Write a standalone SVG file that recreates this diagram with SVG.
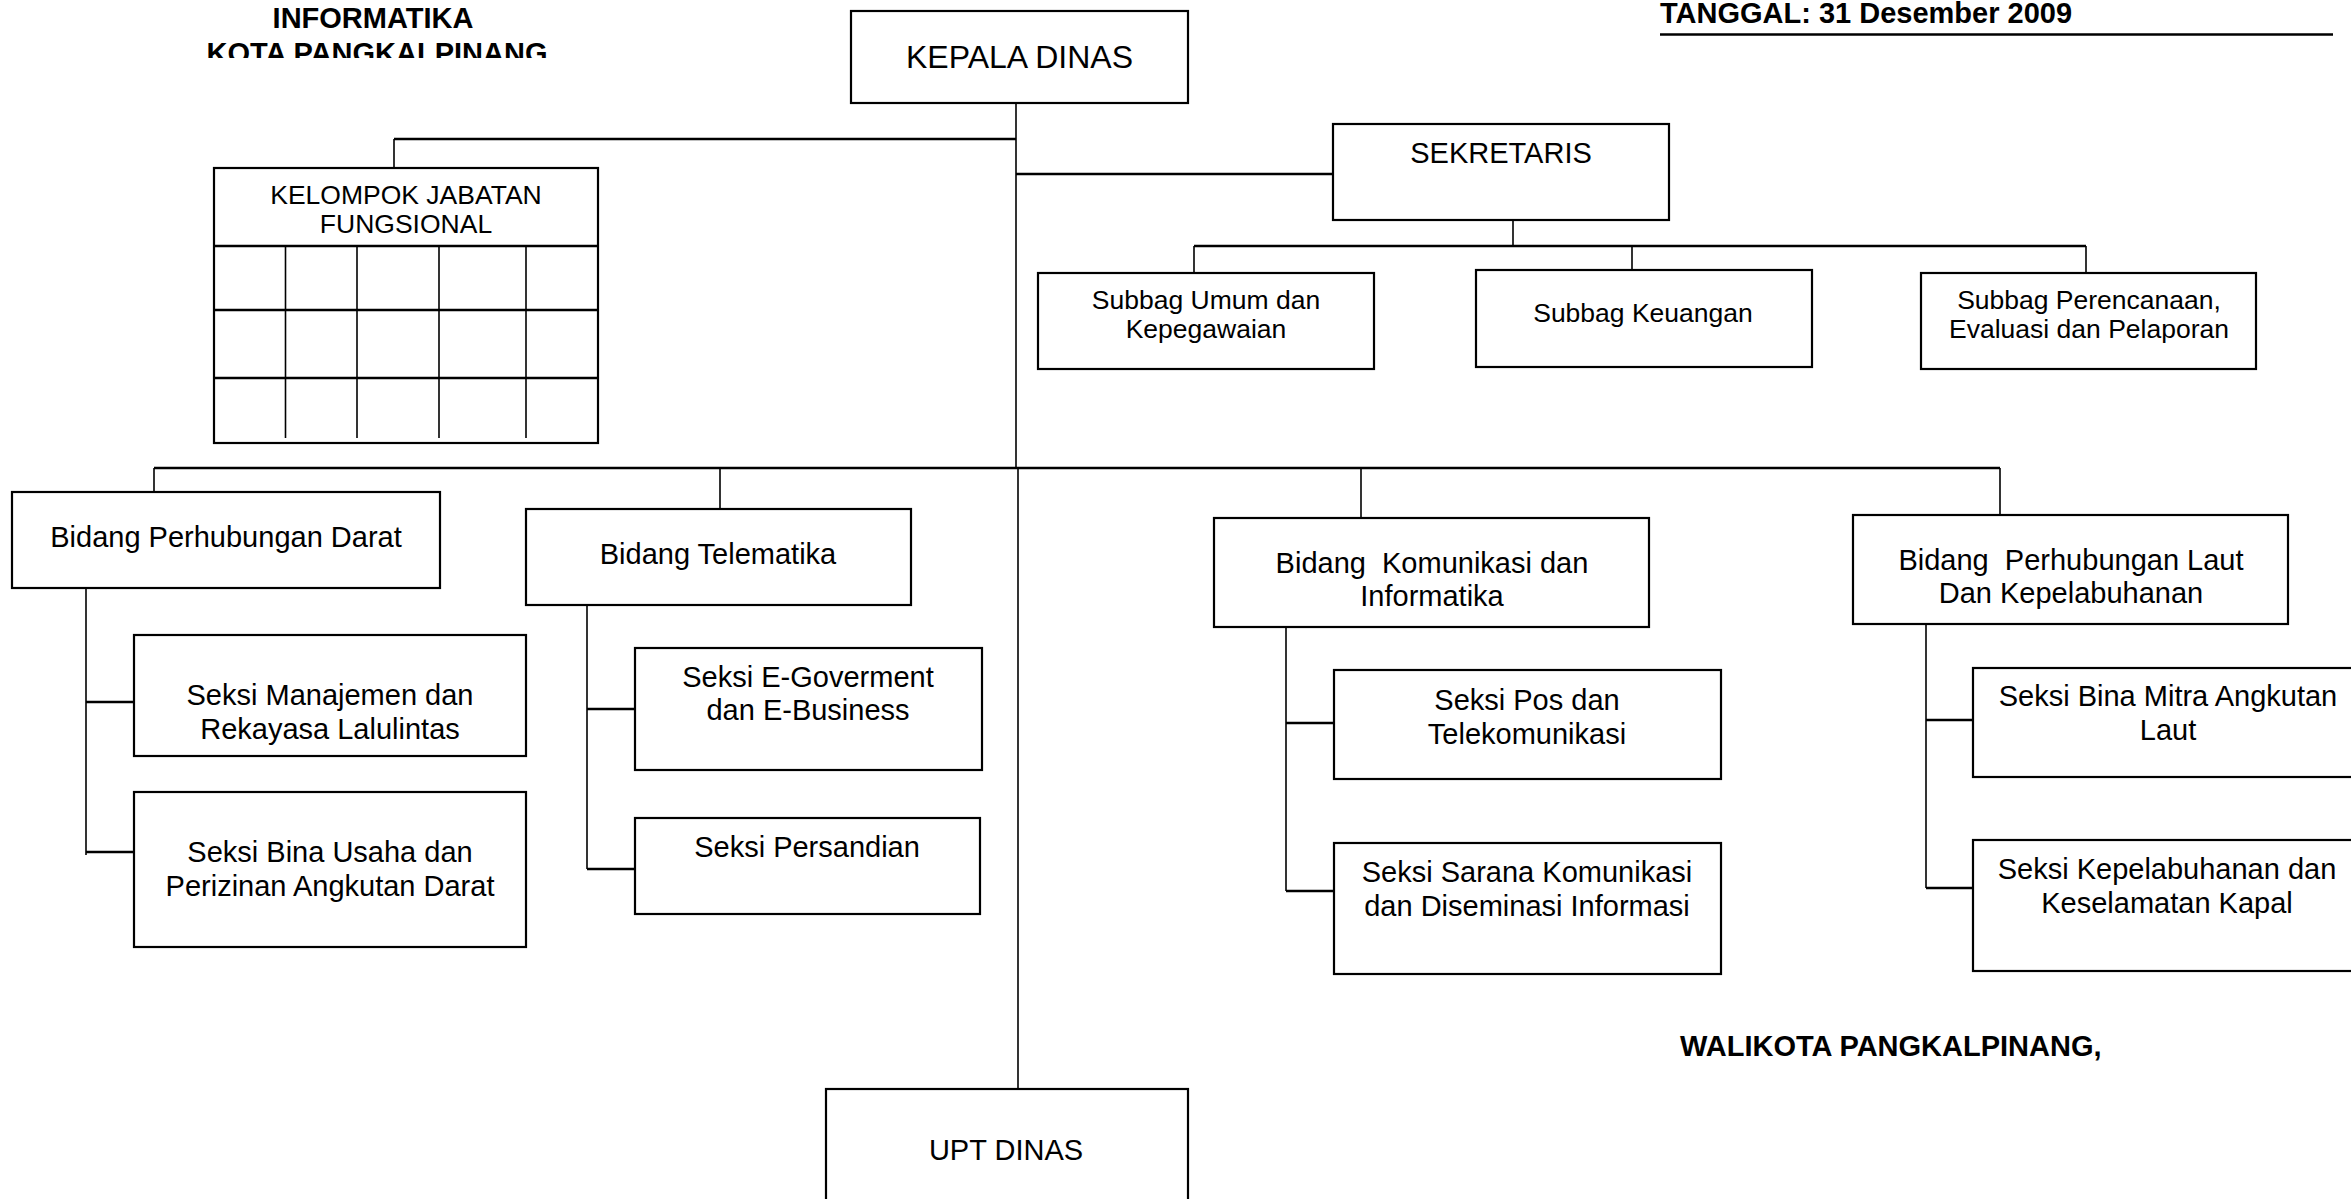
<svg xmlns="http://www.w3.org/2000/svg" width="2351" height="1199" viewBox="0 0 2351 1199">
<style>
.box{fill:#fff;stroke:#000;stroke-width:2.2}
.ln{stroke:#000;stroke-width:1.6;fill:none}
.bus{stroke:#000;stroke-width:2.4;fill:none}
text{font-family:"Liberation Sans",Arial,sans-serif;font-size:29px;fill:#000}
.c{text-anchor:middle}
.s{font-size:26.5px}
.b{font-weight:bold}
.big{font-size:32px}
.pre{white-space:pre}
</style>
<defs>
<clipPath id="titleclip"><rect x="0" y="0" width="800" height="58"/></clipPath>
</defs>
<rect x="0" y="0" width="2351" height="1199" fill="#fff"/>

<g id="header">
<text class="c b" x="373" y="27.5">INFORMATIKA</text>
<text class="c b" x="377" y="62.5" clip-path="url(#titleclip)">KOTA PANGKALPINANG</text>
<text class="b" x="1660" y="23">TANGGAL: 31 Desember 2009</text>
<line x1="1660" y1="34.5" x2="2333" y2="34.5" stroke="#000" stroke-width="2.6"/>
<text class="b" x="1680" y="1056">WALIKOTA PANGKALPINANG,</text>
</g>

<g id="connectors">
<line class="ln" x1="1016" y1="103" x2="1016" y2="468"/>
<line class="ln" x1="1018" y1="468" x2="1018" y2="1089"/>
<line class="bus" x1="394" y1="139" x2="1016" y2="139"/>
<line class="ln" x1="394" y1="139" x2="394" y2="168"/>
<line class="bus" x1="1016" y1="174" x2="1333" y2="174"/>
<line class="ln" x1="1513" y1="220" x2="1513" y2="246"/>
<line class="bus" x1="1194" y1="246" x2="2086" y2="246"/>
<line class="ln" x1="1194" y1="246" x2="1194" y2="273"/>
<line class="ln" x1="1632" y1="246" x2="1632" y2="270"/>
<line class="ln" x1="2086" y1="246" x2="2086" y2="273"/>
<line class="bus" x1="154" y1="468" x2="2000" y2="468"/>
<line class="ln" x1="154" y1="468" x2="154" y2="492"/>
<line class="ln" x1="720" y1="467" x2="720" y2="512"/>
<line class="ln" x1="1361" y1="468" x2="1361" y2="518"/>
<line class="ln" x1="2000" y1="468" x2="2000" y2="515"/>
<line class="ln" x1="86" y1="588" x2="86" y2="855"/>
<line class="bus" x1="86" y1="702" x2="134" y2="702"/>
<line class="bus" x1="86" y1="852" x2="134" y2="852"/>
<line class="ln" x1="587" y1="605" x2="587" y2="869"/>
<line class="bus" x1="587" y1="709" x2="635" y2="709"/>
<line class="bus" x1="587" y1="869" x2="635" y2="869"/>
<line class="ln" x1="1286" y1="627" x2="1286" y2="891"/>
<line class="bus" x1="1286" y1="723" x2="1334" y2="723"/>
<line class="bus" x1="1286" y1="891" x2="1334" y2="891"/>
<line class="ln" x1="1926" y1="624" x2="1926" y2="888"/>
<line class="bus" x1="1926" y1="720" x2="1973" y2="720"/>
<line class="bus" x1="1926" y1="888" x2="1973" y2="888"/>
</g>

<g id="kepala-dinas">
<rect class="box" x="851" y="11" width="337" height="92"/>
<text class="c big" x="1019.5" y="68">KEPALA DINAS</text>
</g>

<g id="kelompok-jabatan">
<rect class="box" x="214" y="168" width="384" height="275"/>
<line class="bus" x1="214" y1="246" x2="598" y2="246"/>
<line class="bus" x1="214" y1="310" x2="598" y2="310"/>
<line class="bus" x1="214" y1="378" x2="598" y2="378"/>
<line class="ln" x1="285.5" y1="246" x2="285.5" y2="438"/>
<line class="ln" x1="357" y1="246" x2="357" y2="438"/>
<line class="ln" x1="439" y1="246" x2="439" y2="438"/>
<line class="ln" x1="526" y1="246" x2="526" y2="438"/>
<text class="c s" x="406" y="204">KELOMPOK JABATAN</text>
<text class="c s" x="406" y="233">FUNGSIONAL</text>
</g>

<g id="sekretaris">
<rect class="box" x="1333" y="124" width="336" height="96"/>
<text class="c" x="1501" y="162.5">SEKRETARIS</text>
</g>

<g id="subbag-umum">
<rect class="box" x="1038" y="273" width="336" height="96"/>
<text class="c s" x="1206" y="309">Subbag Umum dan</text>
<text class="c s" x="1206" y="338">Kepegawaian</text>
</g>

<g id="subbag-keuangan">
<rect class="box" x="1476" y="270" width="336" height="97"/>
<text class="c s" x="1643" y="322">Subbag Keuangan</text>
</g>

<g id="subbag-perencanaan">
<rect class="box" x="1921" y="273" width="335" height="96"/>
<text class="c s" x="2089" y="309">Subbag Perencanaan,</text>
<text class="c s" x="2089" y="338">Evaluasi dan Pelaporan</text>
</g>

<g id="bidang-darat">
<rect class="box" x="12" y="492" width="428" height="96"/>
<text class="c" x="226" y="547">Bidang Perhubungan Darat</text>
</g>

<g id="bidang-telematika">
<rect class="box" x="526" y="509" width="385" height="96"/>
<text class="c" x="718" y="564">Bidang Telematika</text>
</g>

<g id="bidang-komunikasi">
<rect class="box" x="1214" y="518" width="435" height="109"/>
<text class="c pre" x="1432" y="573">Bidang  Komunikasi dan</text>
<text class="c" x="1432" y="606">Informatika</text>
</g>

<g id="bidang-laut">
<rect class="box" x="1853" y="515" width="435" height="109"/>
<text class="c pre" x="2071" y="570">Bidang  Perhubungan Laut</text>
<text class="c" x="2071" y="603">Dan Kepelabuhanan</text>
</g>

<g id="seksi-manajemen">
<rect class="box" x="134" y="635" width="392" height="121"/>
<text class="c" x="330" y="705">Seksi Manajemen dan</text>
<text class="c" x="330" y="739">Rekayasa Lalulintas</text>
</g>

<g id="seksi-bina-usaha">
<rect class="box" x="134" y="792" width="392" height="155"/>
<text class="c" x="330" y="862">Seksi Bina Usaha dan</text>
<text class="c" x="330" y="896">Perizinan Angkutan Darat</text>
</g>

<g id="seksi-egov">
<rect class="box" x="635" y="648" width="347" height="122"/>
<text class="c" x="808" y="687">Seksi E-Goverment</text>
<text class="c" x="808" y="720">dan E-Business</text>
</g>

<g id="seksi-persandian">
<rect class="box" x="635" y="818" width="345" height="96"/>
<text class="c" x="807" y="857">Seksi Persandian</text>
</g>

<g id="seksi-pos">
<rect class="box" x="1334" y="670" width="387" height="109"/>
<text class="c" x="1527" y="710">Seksi Pos dan</text>
<text class="c" x="1527" y="744">Telekomunikasi</text>
</g>

<g id="seksi-sarana">
<rect class="box" x="1334" y="843" width="387" height="131"/>
<text class="c" x="1527" y="882">Seksi Sarana Komunikasi</text>
<text class="c" x="1527" y="916">dan Diseminasi Informasi</text>
</g>

<g id="seksi-bina-mitra">
<rect class="box" x="1973" y="668" width="390" height="109"/>
<text class="c" x="2168" y="706">Seksi Bina Mitra Angkutan</text>
<text class="c" x="2168" y="740">Laut</text>
</g>

<g id="seksi-kepelabuhanan">
<rect class="box" x="1973" y="840" width="390" height="131"/>
<text class="c" x="2167" y="879">Seksi Kepelabuhanan dan</text>
<text class="c" x="2167" y="913">Keselamatan Kapal</text>
</g>

<g id="upt-dinas">
<rect class="box" x="826" y="1089" width="362" height="130"/>
<text class="c" x="1006" y="1160">UPT DINAS</text>
</g>
</svg>
